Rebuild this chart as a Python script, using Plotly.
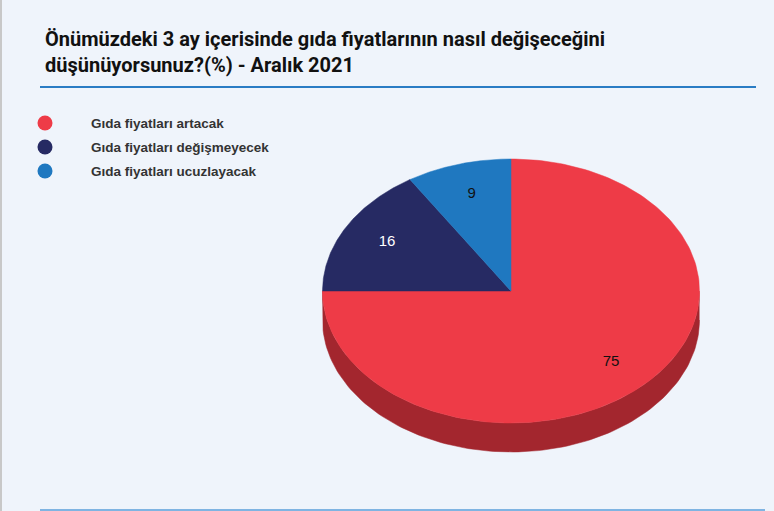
import plotly.graph_objects as go
import numpy as np

# Veriler
categories = ['Gıda fiyatları artacak', 'Gıda fiyatları değişmeyecek', 'Gıda fiyatları ucuzlayacak']
values = [75, 16, 9]
colors = ['#EE3B47', '#262A63', '#1F78C0']
side_colors = ['#A3262E', '#181B45', '#145086']
label_colors = ['#111111', '#FFFFFF', '#111111']

title_lines = ['Önümüzdeki 3 ay içerisinde gıda fiyatlarının nasıl değişeceğini',
               'düşünüyorsunuz?(%) - Aralık 2021']

W, H = 774, 511
bg = '#EFF4FB'

# 3D pasta geometrisi (piksel)
cx, cy = 511, 291
rx, ry = 188.5, 132
depth = 29


def pt(theta_deg, dy=0):
    t = np.radians(theta_deg)
    return cx + rx * np.sin(t), cy - ry * np.cos(t) + dy


fig = go.Figure()

total = sum(values)
bounds = np.concatenate([[0], np.cumsum(values)]) / total * 360

# Yan yüzler (sadece ön yarı görünür: 90..270 derece)
for i in range(len(values)):
    a0, a1 = max(bounds[i], 90), min(bounds[i + 1], 270)
    if a1 <= a0:
        continue
    th = np.linspace(a0, a1, 120)
    xt, yt = pt(th)
    xb, yb = pt(th[::-1], depth)
    fig.add_trace(go.Scatter(
        x=np.concatenate([xt, xb]), y=np.concatenate([yt, yb]),
        fill='toself', fillcolor=side_colors[i], mode='lines',
        line=dict(color=side_colors[i], width=0.5),
        hoverinfo='skip', showlegend=False))

# Üst yüzler
for i in range(len(values)):
    th = np.linspace(bounds[i], bounds[i + 1], 200)
    xs, ys = pt(th)
    fig.add_trace(go.Scatter(
        x=np.concatenate([[cx], xs, [cx]]), y=np.concatenate([[cy], ys, [cy]]),
        fill='toself', fillcolor=colors[i], mode='lines',
        line=dict(color=colors[i], width=0.5),
        name=categories[i], hoverinfo='name+text', text=[str(values[i])] * 203,
        showlegend=False))

# Dilim etiketleri
mids = (bounds[:-1] + bounds[1:]) / 2
lx = cx + 0.75 * rx * np.sin(np.radians(mids))
ly = cy - 0.76 * ry * np.cos(np.radians(mids))
fig.add_trace(go.Scatter(
    x=lx, y=ly, mode='text', text=[str(v) for v in values],
    textfont=dict(family='Liberation Sans, Arial', size=15, color=label_colors),
    hoverinfo='skip', showlegend=False))

# Lejant (daireler + metin)
leg_y = [123 + 24 * k for k in range(len(categories))]
fig.add_trace(go.Scatter(
    x=[45] * len(categories), y=leg_y, mode='markers',
    marker=dict(size=15, color=colors, symbol='circle'),
    hoverinfo='skip', showlegend=False))
for k, name in enumerate(categories):
    fig.add_annotation(x=89, y=leg_y[k], xref='x', yref='y', text=name,
                       showarrow=False, xanchor='left', yanchor='middle',
                       font=dict(family='Liberation Sans, Arial', size=13.5,
                                 color='#333333', weight='bold'))

# Başlık
fig.add_annotation(x=43, y=52, xref='x', yref='y',
                   text='<br>'.join(title_lines), showarrow=False,
                   xanchor='left', yanchor='middle', align='left',
                   font=dict(family='Roboto', size=20, color='#111111', weight='bold'))

fig.update_layout(
    width=W, height=H,
    margin=dict(l=0, r=0, t=0, b=0),
    paper_bgcolor=bg, plot_bgcolor=bg,
    xaxis=dict(range=[0, W], visible=False, fixedrange=True),
    yaxis=dict(range=[H, 0], visible=False, fixedrange=True),
    showlegend=False,
    shapes=[
        dict(type='line', xref='x', yref='y', x0=40, x1=756, y0=87, y1=87,
             line=dict(color='#2A7CC4', width=2)),
        dict(type='line', xref='x', yref='y', x0=40, x1=765, y0=510, y1=510,
             line=dict(color='#7FB4E2', width=2)),
        dict(type='line', xref='x', yref='y', x0=1, x1=1, y0=0, y1=H,
             line=dict(color='#C8C8C8', width=2)),
    ],
)

# sayfa kenar boşluğunu kaldır
fig.write_html("out.html", config={'displayModeBar': False},
               post_script="document.body.style.margin='0';")
